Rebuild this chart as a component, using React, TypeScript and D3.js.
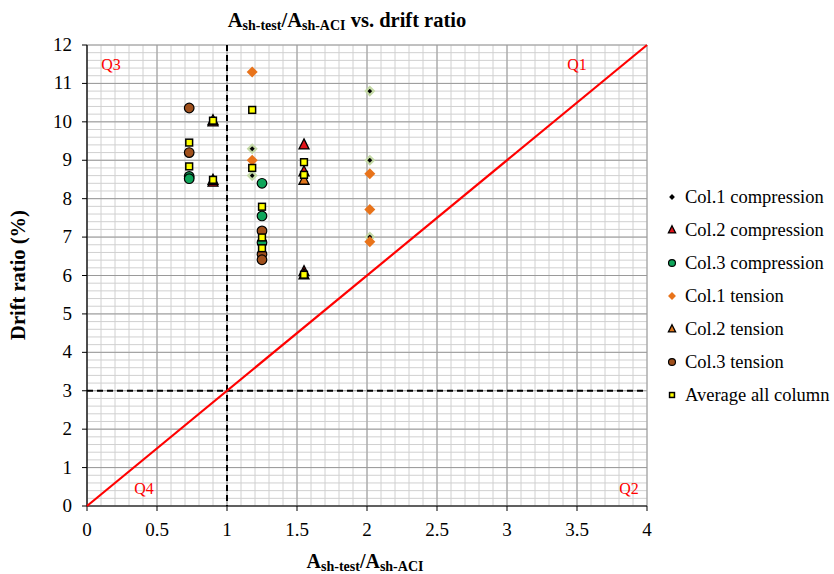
import React from "react";
import * as d3 from "d3";

const xTicks = [0, 0.5, 1, 1.5, 2, 2.5, 3, 3.5, 4];
const yTicks = [0, 1, 2, 3, 4, 5, 6, 7, 8, 9, 10, 11, 12];

const col1CompX = [1.18, 1.18, 2.02, 2.02, 2.02];
const col1CompY = [9.3, 8.6, 10.8, 9.0, 7.0];
const col2CompX = [0.9, 0.9, 1.55, 1.55, 1.55];
const col2CompY = [10.0, 8.43, 9.4, 8.7, 6.1];
const col3CompX = [0.73, 0.73, 1.25, 1.25, 1.25];
const col3CompY = [8.58, 8.52, 8.4, 7.55, 6.86];
const col1TensX = [1.18, 1.18, 2.02, 2.02, 2.02];
const col1TensY = [11.3, 9.0, 8.65, 7.72, 6.88];
const col2TensX = [0.9, 0.9, 1.55, 1.55];
const col2TensY = [10.03, 8.48, 8.48, 6.02];
const col3TensX = [0.73, 0.73, 1.25, 1.25, 1.25];
const col3TensY = [10.36, 9.2, 7.16, 6.55, 6.41];
const avgX = [0.73, 0.73, 0.9, 0.9, 1.18, 1.18, 1.25, 1.25, 1.25, 1.55, 1.55, 1.55];
const avgY = [9.46, 8.84, 10.03, 8.49, 10.31, 8.8, 7.79, 6.99, 6.71, 8.95, 8.62, 6.02];

const legendLabels = [
  "Col.1 compression",
  "Col.2 compression",
  "Col.3 compression",
  "Col.1 tension",
  "Col.2 tension",
  "Col.3 tension",
  "Average all column",
];

const W = 834;
const H = 574;
const left = 87;
const right = 647;
const top = 45;
const bottom = 506;

const x = d3.scaleLinear().domain([0, 4]).range([left, right]);
const y = d3.scaleLinear().domain([0, 12]).range([bottom, top]);

const FONT = "Liberation Serif";

type Kind = "c1c" | "c2c" | "c3c" | "c1t" | "c2t" | "c3t" | "avg";

function Marker({ kind, cx, cy, s = 1 }: { kind: Kind; cx: number; cy: number; s?: number }) {
  switch (kind) {
    case "c1c": {
      const r = 4 * s;
      return (
        <path
          d={`M${cx},${cy - r}L${cx + r},${cy}L${cx},${cy + r}L${cx - r},${cy}Z`}
          fill="#000"
          stroke="#c4d9a6"
          strokeWidth={s >= 1 ? 2.2 : 0}
        />
      );
    }
    case "c1t": {
      const r = 5.5 * s;
      return <path d={`M${cx},${cy - r}L${cx + r},${cy}L${cx},${cy + r}L${cx - r},${cy}Z`} fill="#e8731a" />;
    }
    case "c2c":
    case "c2t": {
      const h = 10 * s;
      const w = 10 * s;
      return (
        <path
          d={`M${cx},${cy - h * 0.6}L${cx + w / 2},${cy + h * 0.4}L${cx - w / 2},${cy + h * 0.4}Z`}
          fill={kind === "c2c" ? "#e3141b" : "#e0761c"}
          stroke="#000"
          strokeWidth={1.3}
          strokeLinejoin="miter"
        />
      );
    }
    case "c3c":
    case "c3t":
      return (
        <circle
          cx={cx}
          cy={cy}
          r={4.8 * s}
          fill={kind === "c3c" ? "#0ea55a" : "#a0501c"}
          stroke="#000"
          strokeWidth={1.2}
        />
      );
    case "avg": {
      const a = 3.4 * s;
      return <rect x={cx - a} y={cy - a} width={2 * a} height={2 * a} fill="#ffff00" stroke="#000" strokeWidth={1.5} />;
    }
  }
  return null;
}

const seriesList: { kind: Kind; xs: number[]; ys: number[] }[] = [
  { kind: "c1c", xs: col1CompX, ys: col1CompY },
  { kind: "c2c", xs: col2CompX, ys: col2CompY },
  { kind: "c3c", xs: col3CompX, ys: col3CompY },
  { kind: "c1t", xs: col1TensX, ys: col1TensY },
  { kind: "c2t", xs: col2TensX, ys: col2TensY },
  { kind: "c3t", xs: col3TensX, ys: col3TensY },
  { kind: "avg", xs: avgX, ys: avgY },
];

export default function App() {
  const xMinor = d3.range(0, 40.5, 1).map((v) => v / 10);
  const yMinor = d3.range(0, 60.5, 1).map((v) => v / 5);

  return (
    <svg width={W} height={H} style={{ display: "block", position: "absolute", left: 0, top: 0 }} fontFamily={FONT}>
      <rect x={0} y={0} width={W} height={H} fill="#fff" />
      {xMinor.map((v, i) => (
        <line key={"xm" + i} x1={x(v)} x2={x(v)} y1={top} y2={bottom} stroke="#d0d0d0" strokeWidth={1} />
      ))}
      {yMinor.map((v, i) => (
        <line key={"ym" + i} x1={left} x2={right} y1={y(v)} y2={y(v)} stroke="#d0d0d0" strokeWidth={1} />
      ))}
      {xTicks.map((v, i) => (
        <line key={"xM" + i} x1={x(v)} x2={x(v)} y1={top} y2={bottom} stroke="#9a9a9a" strokeWidth={1} />
      ))}
      {yTicks.map((v, i) => (
        <line key={"yM" + i} x1={left} x2={right} y1={y(v)} y2={y(v)} stroke="#9a9a9a" strokeWidth={1} />
      ))}
      <line x1={left} x2={left} y1={top} y2={bottom} stroke="#000" strokeWidth={1.2} />
      <line x1={left} x2={right} y1={bottom} y2={bottom} stroke="#000" strokeWidth={1.2} />
      {yTicks.map((v, i) => (
        <g key={"yt" + i}>
          <line x1={left - 5} x2={left} y1={y(v)} y2={y(v)} stroke="#000" />
          <text x={left - 15} y={y(v) + 6} textAnchor="end" fontSize={19} fontFamily={FONT}>
            {v}
          </text>
        </g>
      ))}
      {xTicks.map((v, i) => (
        <g key={"xt" + i}>
          <line x1={x(v)} x2={x(v)} y1={bottom} y2={bottom + 5} stroke="#000" />
          <text x={x(v)} y={bottom + 30} textAnchor="middle" fontSize={19} fontFamily={FONT}>
            {v}
          </text>
        </g>
      ))}
      <line x1={x(1)} x2={x(1)} y1={top} y2={bottom} stroke="#000" strokeWidth={2} strokeDasharray="6,4" />
      <line x1={left} x2={right} y1={y(3)} y2={y(3)} stroke="#000" strokeWidth={2} strokeDasharray="6,4" />
      <line x1={x(0)} y1={y(0)} x2={x(4)} y2={y(12)} stroke="#ff0000" strokeWidth={2.2} />
      <text x={577} y={70} textAnchor="middle" fontSize={16} fill="#ff0000" fontFamily={FONT}>Q1</text>
      <text x={629} y={494} textAnchor="middle" fontSize={16} fill="#ff0000" fontFamily={FONT}>Q2</text>
      <text x={111} y={70} textAnchor="middle" fontSize={16} fill="#ff0000" fontFamily={FONT}>Q3</text>
      <text x={144} y={494} textAnchor="middle" fontSize={16} fill="#ff0000" fontFamily={FONT}>Q4</text>
      {seriesList.map((s, si) => (
        <g key={"s" + si}>
          {s.xs.map((xv, i) => (
            <Marker key={i} kind={s.kind} cx={x(xv)} cy={y(s.ys[i])} />
          ))}
        </g>
      ))}
      <text x={347} y={27} textAnchor="middle" fontSize={20.5} fontWeight="bold" fontFamily={FONT}>
        A<tspan fontSize={14} dy={3}>sh-test</tspan>
        <tspan dy={-3}>/A</tspan>
        <tspan fontSize={14} dy={3}>sh-ACI</tspan>
        <tspan dy={-3}> vs. drift ratio</tspan>
      </text>
      <text x={365} y={568} textAnchor="middle" fontSize={20} fontWeight="bold" fontFamily={FONT}>
        A<tspan fontSize={14} dy={3}>sh-test</tspan>
        <tspan dy={-3}>/A</tspan>
        <tspan fontSize={14} dy={3}>sh-ACI</tspan>
      </text>
      <text transform={`translate(25,${275}) rotate(-90)`} textAnchor="middle" fontSize={20.5} fontWeight="bold" fontFamily={FONT}>
        Drift ratio (%)
      </text>
      {legendLabels.map((lab, i) => {
        const ly = 197 + i * 33;
        return (
          <g key={"lg" + i}>
            <Marker kind={seriesList[i].kind} cx={672} cy={ly} s={0.72} />
            <text x={685} y={ly + 6} fontSize={18.5} fontFamily={FONT}>
              {lab}
            </text>
          </g>
        );
      })}
    </svg>
  );
}
